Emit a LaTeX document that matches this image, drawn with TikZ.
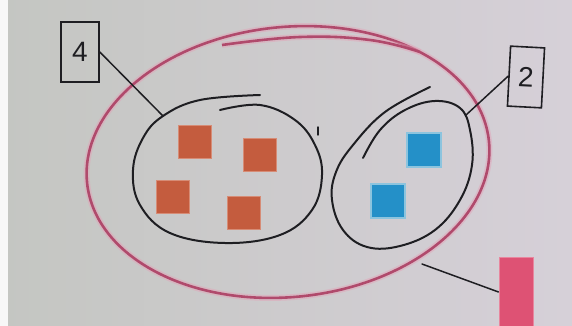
\documentclass[tikz,border=0pt]{standalone}
\usepackage{fontspec}
\setmainfont{Liberation Sans}
\definecolor{bgleft}{RGB}{196,198,194}
\definecolor{bgright}{RGB}{214,208,216}
\definecolor{ink}{RGB}{30,30,34}
\definecolor{pinkcore}{RGB}{176,74,108}
\definecolor{pinkhalo}{RGB}{228,160,182}
\definecolor{orangefill}{RGB}{196,92,62}
\definecolor{orangeedge}{RGB}{214,140,118}
\definecolor{bluefill}{RGB}{36,144,200}
\definecolor{blueedge}{RGB}{140,196,222}
\definecolor{tagpink}{RGB}{222,82,116}
\begin{document}
\begin{tikzpicture}[x=1pt,y=-1pt,
  pinkline/.style={draw=pinkcore, line width=2.6pt},
  pinkglow/.style={draw=pinkhalo, line width=6pt, opacity=0.45},
  inkline/.style={draw=ink, line width=2pt, line cap=round, line join=round},
  thinink/.style={draw=ink, line width=1.5pt, line cap=round},
  labelbox/.style={draw=ink, line width=1.6pt, inner sep=0pt,
    font=\fontsize{28}{30}\selectfont, text=ink},
  orangesq/.style={fill=orangefill, draw=orangeedge, line width=1.6pt,
    minimum size=33pt, inner sep=0pt},
  bluesq/.style={fill=bluefill, draw=blueedge, line width=1.6pt,
    minimum size=34pt, inner sep=0pt},
  tagrect/.style={fill=tagpink, draw=tagpink!70!white, line width=1pt,
    minimum width=34pt, minimum height=70pt, inner sep=0pt}]
\useasboundingbox (0,0) rectangle (572,326);
% background
\shade[left color=bgleft, right color=bgright] (0,0) rectangle (572,326);
\fill[white!94!gray] (0,0) rectangle (8,326);

% big pink ellipse
\draw[pinkglow, rotate around={6:(288,162)}] (288,162) ellipse [x radius=202pt, y radius=135pt];
\draw[pinkline, rotate around={6:(288,162)}] (288,162) ellipse [x radius=202pt, y radius=135pt];
\draw[pinkglow] plot[smooth, tension=0.7] coordinates {(222,45) (300,37) (370,40) (420,52)};
\draw[pinkline] plot[smooth, tension=0.7] coordinates {(222,45) (300,37) (370,40) (420,52)};

% squares
\node[orangesq] (o1) at (195,142) {};
\node[orangesq] (o2) at (260,155) {};
\node[orangesq] (o3) at (173,197) {};
\node[orangesq] (o4) at (244,213) {};
\node[bluesq] (b1) at (424,150) {};
\node[bluesq] (b2) at (388,201) {};

% left loop
\draw[inkline] plot[smooth, tension=0.65] coordinates {
  (220,110) (260,105) (295,120) (315,145) (322,175) (312,210) (280,235)
  (225,243) (170,233) (140,205) (133,170) (143,138) (163,116) (200,100) (260,95)};
\coordinate (lj) at (163,116);
\draw[ink, line width=1.4pt, line cap=round] (318,127) -- (318,135);

% right loop
\draw[inkline] plot[smooth, tension=0.65] coordinates {
  (363,158) (380,130) (405,110) (435,101) (460,108) (470,130) (472,165)
  (460,200) (435,230) (400,246) (367,247) (343,230) (332,200) (336,172)
  (353,145) (385,112) (430,87)};
\coordinate (rj) at (466,115);

% label boxes
\node[labelbox, minimum width=38pt, minimum height=60pt] (four) at (80,52) {4};
\node[labelbox, minimum width=34pt, minimum height=60pt, rotate=-3] (two) at (526,77) {2};
\draw[thinink] (four.east) -- (lj);
\draw[thinink] (two.west) -- (rj);

% pink tag
\node[tagrect] (tag) at (516,292) {};
\coordinate (pj) at (422,264);
\draw[thinink] (tag.west) -- (pj);
\end{tikzpicture}
\end{document}
